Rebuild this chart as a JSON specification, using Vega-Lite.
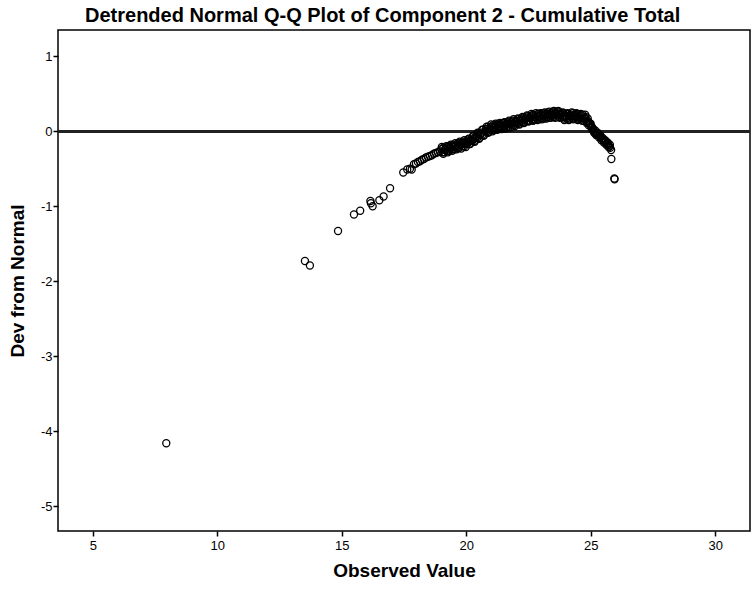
{
  "$schema": "https://vega.github.io/schema/vega-lite/v6.json",
  "width": 692,
  "height": 501,
  "padding": {"left": 58, "top": 30, "right": 4, "bottom": 58},
  "autosize": {"type": "none"},
  "background": "white",
  "title": {
    "text": "Detrended Normal Q-Q Plot of Component 2 - Cumulative Total",
    "font": "Liberation Sans",
    "fontSize": 20,
    "fontWeight": "bold",
    "color": "#000",
    "anchor": "start",
    "frame": "group",
    "dx": 27,
    "offset": 4
  },
  "config": {
    "view": {"stroke": "#000", "strokeWidth": 1.5},
    "axis": {
      "labelFont": "Liberation Sans",
      "labelFontSize": 13,
      "labelColor": "#000",
      "titleFont": "Liberation Sans",
      "titleFontSize": 19,
      "titleFontWeight": "bold",
      "titleColor": "#000",
      "tickColor": "#000",
      "tickSize": 5,
      "tickWidth": 1.5,
      "domain": false,
      "grid": false
    }
  },
  "data": {
    "values": [
      {"x": 7.95, "y": -4.16}, {"x": 13.52, "y": -1.73}, {"x": 13.72, "y": -1.79}, {"x": 14.85, "y": -1.33},
      {"x": 15.49, "y": -1.11}, {"x": 15.74, "y": -1.06}, {"x": 16.15, "y": -0.93}, {"x": 16.17, "y": -0.96},
      {"x": 16.24, "y": -1.0}, {"x": 16.51, "y": -0.92}, {"x": 16.68, "y": -0.87}, {"x": 16.94, "y": -0.76},
      {"x": 17.47, "y": -0.55}, {"x": 17.63, "y": -0.51}, {"x": 17.74, "y": -0.5}, {"x": 17.81, "y": -0.51},
      {"x": 17.9, "y": -0.44}, {"x": 17.98, "y": -0.43}, {"x": 18.06, "y": -0.41}, {"x": 18.14, "y": -0.4},
      {"x": 18.22, "y": -0.38}, {"x": 18.3, "y": -0.37}, {"x": 18.38, "y": -0.35}, {"x": 18.46, "y": -0.34},
      {"x": 18.54, "y": -0.33}, {"x": 18.62, "y": -0.32}, {"x": 18.7, "y": -0.3}, {"x": 18.78, "y": -0.29},
      {"x": 18.86, "y": -0.28}, {"x": 18.94, "y": -0.27},
      {"x": 19.0, "y": -0.24}, {"x": 19.04, "y": -0.28}, {"x": 19.08, "y": -0.22}, {"x": 19.12, "y": -0.28},
      {"x": 19.16, "y": -0.24}, {"x": 19.2, "y": -0.22}, {"x": 19.24, "y": -0.26}, {"x": 19.28, "y": -0.2},
      {"x": 19.32, "y": -0.26}, {"x": 19.36, "y": -0.22}, {"x": 19.4, "y": -0.2}, {"x": 19.44, "y": -0.24},
      {"x": 19.48, "y": -0.18}, {"x": 19.52, "y": -0.24}, {"x": 19.56, "y": -0.2}, {"x": 19.6, "y": -0.18},
      {"x": 19.64, "y": -0.22}, {"x": 19.68, "y": -0.16}, {"x": 19.72, "y": -0.22}, {"x": 19.76, "y": -0.18},
      {"x": 19.8, "y": -0.16}, {"x": 19.84, "y": -0.2}, {"x": 19.88, "y": -0.14}, {"x": 19.92, "y": -0.2},
      {"x": 19.96, "y": -0.16}, {"x": 20.0, "y": -0.14}, {"x": 20.04, "y": -0.17}, {"x": 20.08, "y": -0.11},
      {"x": 20.12, "y": -0.17}, {"x": 20.16, "y": -0.13}, {"x": 20.2, "y": -0.1}, {"x": 20.24, "y": -0.13},
      {"x": 20.28, "y": -0.07}, {"x": 20.32, "y": -0.13}, {"x": 20.36, "y": -0.09}, {"x": 20.4, "y": -0.06},
      {"x": 20.44, "y": -0.09}, {"x": 20.48, "y": -0.03}, {"x": 20.52, "y": -0.09}, {"x": 20.56, "y": -0.05},
      {"x": 20.6, "y": -0.02}, {"x": 20.64, "y": -0.05}, {"x": 20.68, "y": 0.02}, {"x": 20.72, "y": -0.05},
      {"x": 20.76, "y": 0.0}, {"x": 20.8, "y": 0.03}, {"x": 20.84, "y": 0.0}, {"x": 20.88, "y": 0.06},
      {"x": 20.92, "y": -0.01}, {"x": 20.96, "y": 0.03}, {"x": 21.0, "y": 0.06}, {"x": 21.04, "y": 0.02},
      {"x": 21.08, "y": 0.08}, {"x": 21.12, "y": 0.02}, {"x": 21.16, "y": 0.06}, {"x": 21.2, "y": 0.08},
      {"x": 21.24, "y": 0.04}, {"x": 21.28, "y": 0.1}, {"x": 21.32, "y": 0.03}, {"x": 21.36, "y": 0.07},
      {"x": 21.4, "y": 0.09}, {"x": 21.44, "y": 0.05}, {"x": 21.48, "y": 0.11}, {"x": 21.52, "y": 0.04},
      {"x": 21.56, "y": 0.08}, {"x": 21.6, "y": 0.1}, {"x": 21.64, "y": 0.06}, {"x": 21.68, "y": 0.12},
      {"x": 21.72, "y": 0.06}, {"x": 21.76, "y": 0.1}, {"x": 21.8, "y": 0.12}, {"x": 21.84, "y": 0.08},
      {"x": 21.88, "y": 0.14}, {"x": 21.92, "y": 0.08}, {"x": 21.96, "y": 0.12}, {"x": 22.0, "y": 0.14},
      {"x": 22.04, "y": 0.1}, {"x": 22.08, "y": 0.16}, {"x": 22.12, "y": 0.1}, {"x": 22.16, "y": 0.14},
      {"x": 22.2, "y": 0.16}, {"x": 22.24, "y": 0.12}, {"x": 22.28, "y": 0.18}, {"x": 22.32, "y": 0.12},
      {"x": 22.36, "y": 0.16}, {"x": 22.4, "y": 0.18}, {"x": 22.44, "y": 0.14}, {"x": 22.48, "y": 0.2},
      {"x": 22.52, "y": 0.14}, {"x": 22.56, "y": 0.18}, {"x": 22.6, "y": 0.2}, {"x": 22.64, "y": 0.16},
      {"x": 22.68, "y": 0.22}, {"x": 22.72, "y": 0.15}, {"x": 22.76, "y": 0.19}, {"x": 22.8, "y": 0.21},
      {"x": 22.84, "y": 0.17}, {"x": 22.88, "y": 0.23}, {"x": 22.92, "y": 0.16}, {"x": 22.96, "y": 0.2},
      {"x": 23.0, "y": 0.22}, {"x": 23.04, "y": 0.18}, {"x": 23.08, "y": 0.24}, {"x": 23.12, "y": 0.17},
      {"x": 23.16, "y": 0.21}, {"x": 23.2, "y": 0.23}, {"x": 23.24, "y": 0.19}, {"x": 23.28, "y": 0.25},
      {"x": 23.32, "y": 0.18}, {"x": 23.36, "y": 0.22}, {"x": 23.4, "y": 0.24}, {"x": 23.44, "y": 0.2},
      {"x": 23.48, "y": 0.26}, {"x": 23.52, "y": 0.19}, {"x": 23.56, "y": 0.23}, {"x": 23.6, "y": 0.25},
      {"x": 23.64, "y": 0.21}, {"x": 23.68, "y": 0.26}, {"x": 23.72, "y": 0.19}, {"x": 23.76, "y": 0.22},
      {"x": 23.8, "y": 0.24}, {"x": 23.84, "y": 0.19}, {"x": 23.88, "y": 0.24}, {"x": 23.92, "y": 0.17},
      {"x": 23.96, "y": 0.2}, {"x": 24.0, "y": 0.21}, {"x": 24.04, "y": 0.17}, {"x": 24.08, "y": 0.23},
      {"x": 24.12, "y": 0.16}, {"x": 24.16, "y": 0.2}, {"x": 24.2, "y": 0.22}, {"x": 24.24, "y": 0.18},
      {"x": 24.28, "y": 0.24}, {"x": 24.32, "y": 0.17}, {"x": 24.36, "y": 0.2}, {"x": 24.4, "y": 0.22},
      {"x": 24.44, "y": 0.18}, {"x": 24.48, "y": 0.23}, {"x": 24.52, "y": 0.16}, {"x": 24.56, "y": 0.19},
      {"x": 24.6, "y": 0.21}, {"x": 24.64, "y": 0.17}, {"x": 24.68, "y": 0.22}, {"x": 24.72, "y": 0.14},
      {"x": 24.76, "y": 0.17}, {"x": 24.8, "y": 0.19}, {"x": 24.84, "y": 0.13}, {"x": 24.88, "y": 0.17},
      {"x": 24.92, "y": 0.08}, {"x": 24.96, "y": 0.1}, {"x": 25.0, "y": 0.1},
      {"x": 19.02, "y": -0.21}, {"x": 19.08, "y": -0.3}, {"x": 19.14, "y": -0.25}, {"x": 19.2, "y": -0.2},
      {"x": 19.26, "y": -0.28}, {"x": 19.32, "y": -0.23}, {"x": 19.38, "y": -0.18}, {"x": 19.44, "y": -0.26},
      {"x": 19.5, "y": -0.21}, {"x": 19.56, "y": -0.16}, {"x": 19.62, "y": -0.24}, {"x": 19.68, "y": -0.19},
      {"x": 19.74, "y": -0.14}, {"x": 19.8, "y": -0.23}, {"x": 19.86, "y": -0.17}, {"x": 19.92, "y": -0.12},
      {"x": 19.98, "y": -0.21}, {"x": 20.04, "y": -0.15}, {"x": 20.1, "y": -0.1}, {"x": 20.16, "y": -0.17},
      {"x": 20.22, "y": -0.12}, {"x": 20.28, "y": -0.06}, {"x": 20.34, "y": -0.14}, {"x": 20.4, "y": -0.08},
      {"x": 20.46, "y": -0.02}, {"x": 20.52, "y": -0.1}, {"x": 20.58, "y": -0.04}, {"x": 20.64, "y": 0.02},
      {"x": 20.7, "y": -0.06}, {"x": 20.76, "y": 0.0}, {"x": 20.82, "y": 0.06}, {"x": 20.88, "y": -0.02},
      {"x": 20.94, "y": 0.03}, {"x": 21.0, "y": 0.09}, {"x": 21.06, "y": 0.0}, {"x": 21.12, "y": 0.05},
      {"x": 21.18, "y": 0.1}, {"x": 21.24, "y": 0.02}, {"x": 21.3, "y": 0.07}, {"x": 21.36, "y": 0.11},
      {"x": 21.42, "y": 0.03}, {"x": 21.48, "y": 0.07}, {"x": 21.54, "y": 0.12}, {"x": 21.6, "y": 0.04},
      {"x": 21.66, "y": 0.09}, {"x": 21.72, "y": 0.14}, {"x": 21.78, "y": 0.05}, {"x": 21.84, "y": 0.1},
      {"x": 21.9, "y": 0.16}, {"x": 21.96, "y": 0.07}, {"x": 22.02, "y": 0.12}, {"x": 22.08, "y": 0.17},
      {"x": 22.14, "y": 0.09}, {"x": 22.2, "y": 0.14}, {"x": 22.26, "y": 0.19}, {"x": 22.32, "y": 0.11},
      {"x": 22.38, "y": 0.16}, {"x": 22.44, "y": 0.21}, {"x": 22.5, "y": 0.13}, {"x": 22.56, "y": 0.18},
      {"x": 22.62, "y": 0.23}, {"x": 22.68, "y": 0.14}, {"x": 22.74, "y": 0.19}, {"x": 22.8, "y": 0.24},
      {"x": 22.86, "y": 0.15}, {"x": 22.92, "y": 0.2}, {"x": 22.98, "y": 0.24}, {"x": 23.04, "y": 0.16},
      {"x": 23.1, "y": 0.21}, {"x": 23.16, "y": 0.25}, {"x": 23.22, "y": 0.17}, {"x": 23.28, "y": 0.21},
      {"x": 23.34, "y": 0.26}, {"x": 23.4, "y": 0.18}, {"x": 23.46, "y": 0.22}, {"x": 23.52, "y": 0.27},
      {"x": 23.58, "y": 0.18}, {"x": 23.64, "y": 0.23}, {"x": 23.7, "y": 0.27}, {"x": 23.76, "y": 0.18},
      {"x": 23.82, "y": 0.22}, {"x": 23.88, "y": 0.25}, {"x": 23.94, "y": 0.15}, {"x": 24.0, "y": 0.19},
      {"x": 24.06, "y": 0.24}, {"x": 24.12, "y": 0.15}, {"x": 24.18, "y": 0.2}, {"x": 24.24, "y": 0.25},
      {"x": 24.3, "y": 0.16}, {"x": 24.36, "y": 0.2}, {"x": 24.42, "y": 0.24}, {"x": 24.48, "y": 0.15},
      {"x": 24.54, "y": 0.19}, {"x": 24.6, "y": 0.23}, {"x": 24.66, "y": 0.14}, {"x": 24.72, "y": 0.18},
      {"x": 24.78, "y": 0.22}, {"x": 24.84, "y": 0.11}, {"x": 24.9, "y": 0.13}, {"x": 24.96, "y": 0.1},
      {"x": 25.02, "y": 0.07}, {"x": 25.06, "y": 0.05}, {"x": 25.1, "y": 0.03}, {"x": 25.14, "y": -0.02},
      {"x": 25.18, "y": 0.01}, {"x": 25.22, "y": -0.05}, {"x": 25.28, "y": -0.02}, {"x": 25.33, "y": -0.08},
      {"x": 25.38, "y": -0.05}, {"x": 25.43, "y": -0.12}, {"x": 25.48, "y": -0.09}, {"x": 25.53, "y": -0.15},
      {"x": 25.58, "y": -0.12}, {"x": 25.63, "y": -0.18}, {"x": 25.68, "y": -0.15}, {"x": 25.72, "y": -0.21},
      {"x": 25.77, "y": -0.18},
      {"x": 25.04, "y": 0.04}, {"x": 25.08, "y": 0.02}, {"x": 25.12, "y": 0.0}, {"x": 25.16, "y": -0.01},
      {"x": 25.2, "y": -0.03}, {"x": 25.25, "y": -0.04}, {"x": 25.3, "y": -0.05}, {"x": 25.35, "y": -0.06},
      {"x": 25.4, "y": -0.08}, {"x": 25.45, "y": -0.1}, {"x": 25.5, "y": -0.12}, {"x": 25.55, "y": -0.13},
      {"x": 25.6, "y": -0.14}, {"x": 25.65, "y": -0.16}, {"x": 25.7, "y": -0.18}, {"x": 25.75, "y": -0.2},
      {"x": 25.78, "y": -0.22}, {"x": 25.82, "y": -0.25}, {"x": 25.83, "y": -0.37}, {"x": 25.95, "y": -0.63},
      {"x": 25.96, "y": -0.64}
    ]
  },
  "layer": [
    {
      "mark": {"type": "rule", "color": "#222", "strokeWidth": 2},
      "encoding": {"y": {"datum": 0, "type": "quantitative"}}
    },
    {
      "mark": {"type": "point", "shape": "circle", "filled": false, "stroke": "#000", "strokeWidth": 1.3, "size": 50, "opacity": 1},
      "encoding": {
        "x": {
          "field": "x", "type": "quantitative",
          "scale": {"domain": [3.6, 31.4], "nice": false, "zero": false},
          "axis": {"title": "Observed Value", "values": [5, 10, 15, 20, 25, 30], "labelExpr": "'' + datum.value", "labelPadding": 3, "titlePadding": 9}
        },
        "y": {
          "field": "y", "type": "quantitative",
          "scale": {"domain": [-5.33, 1.35], "nice": false, "zero": false},
          "axis": {"title": "Dev from Normal", "values": [-5, -4, -3, -2, -1, 0, 1], "labelExpr": "'' + datum.value", "labelPadding": 1, "titlePadding": 13}
        }
      }
    }
  ]
}
